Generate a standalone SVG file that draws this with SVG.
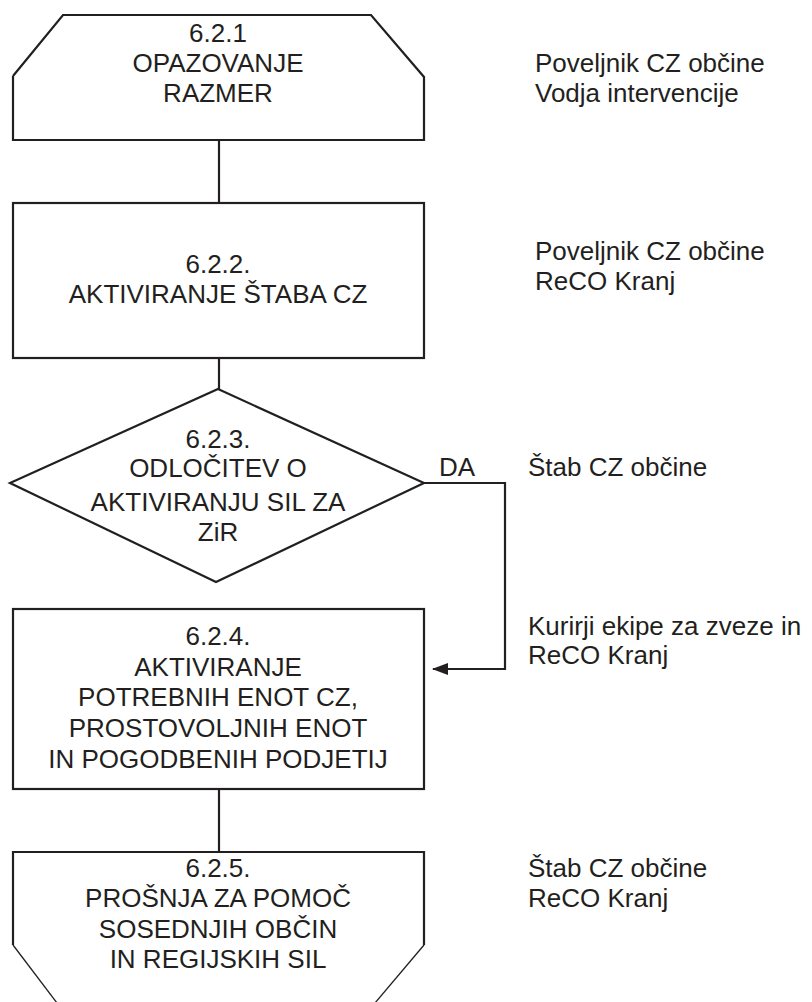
<svg xmlns="http://www.w3.org/2000/svg" width="812" height="1002" viewBox="0 0 812 1002">
<defs>
<style>
.s{fill:none;stroke:#231f20;stroke-width:2.2;stroke-linejoin:miter}
.t{font-family:"Liberation Sans",Arial,sans-serif;font-size:26px;fill:#231f20}
.c{text-anchor:middle}
</style>
<marker id="ah" markerWidth="16" markerHeight="12" refX="15" refY="6" orient="auto" markerUnits="userSpaceOnUse">
<path d="M0,0 L16,6 L0,12 Z" fill="#231f20"/>
</marker>
</defs>
<rect width="812" height="1002" fill="#ffffff"/>
<g id="connectors">
<line class="s" x1="219" y1="140" x2="219" y2="203"/>
<line class="s" x1="219" y1="358" x2="219" y2="389"/>
<polyline class="s" points="424,483 505,483 505,669 433,669" marker-end="url(#ah)"/>
<line class="s" x1="219" y1="789" x2="219" y2="852"/>
<text class="t" x="439" y="476">DA</text>
</g>
<g id="n1">
<polyline class="s" points="13,76 63,15 371,15 424,77 424,140 13,140 13,76"/>
<text class="t c" x="218" y="42">6.2.1</text>
<text class="t c" x="218" y="72">OPAZOVANJE</text>
<text class="t c" x="218" y="102">RAZMER</text>
</g>
<g id="r1">
<text class="t" x="535" y="72">Poveljnik CZ občine</text>
<text class="t" x="535" y="102">Vodja intervencije</text>
</g>
<g id="n2">
<rect class="s" x="13" y="203" width="411" height="155"/>
<text class="t c" x="218" y="273">6.2.2.</text>
<text class="t c" x="218" y="303">AKTIVIRANJE ŠTABA CZ</text>
</g>
<g id="r2">
<text class="t" x="535" y="260">Poveljnik CZ občine</text>
<text class="t" x="535" y="290">ReCO Kranj</text>
</g>
<g id="n3">
<polygon class="s" points="218,389 424,483 216,582 10,483"/>
<text class="t c" x="218" y="448">6.2.3.</text>
<text class="t c" x="218" y="477">ODLOČITEV O</text>
<text class="t c" x="218" y="511">AKTIVIRANJU SIL ZA</text>
<text class="t c" x="218" y="541">ZiR</text>
</g>
<g id="r3">
<text class="t" x="528" y="476">Štab CZ občine</text>
</g>
<g id="n4">
<rect class="s" x="13" y="609" width="411" height="180"/>
<text class="t c" x="218" y="645">6.2.4.</text>
<text class="t c" x="218" y="676">AKTIVIRANJE</text>
<text class="t c" x="218" y="706">POTREBNIH ENOT CZ,</text>
<text class="t c" x="218" y="737">PROSTOVOLJNIH ENOT</text>
<text class="t c" x="218" y="768">IN POGODBENIH PODJETIJ</text>
</g>
<g id="r4">
<text class="t" x="528" y="635">Kurirji ekipe za zveze in</text>
<text class="t" x="528" y="664">ReCO Kranj</text>
</g>
<g id="n5">
<polyline class="s" points="13,945 13,852 424,852 424,945"/>
<line class="s" style="stroke-width:1.3" x1="13" y1="945" x2="57" y2="1003"/>
<line class="s" style="stroke-width:1.3" x1="424" y1="945" x2="375" y2="1003"/>
<text class="t c" x="218" y="877">6.2.5.</text>
<text class="t c" x="218" y="907">PROŠNJA ZA POMOČ</text>
<text class="t c" x="218" y="938">SOSEDNJIH OBČIN</text>
<text class="t c" x="218" y="968">IN REGIJSKIH SIL</text>
</g>
<g id="r5">
<text class="t" x="528" y="877">Štab CZ občine</text>
<text class="t" x="528" y="907">ReCO Kranj</text>
</g>
</svg>
